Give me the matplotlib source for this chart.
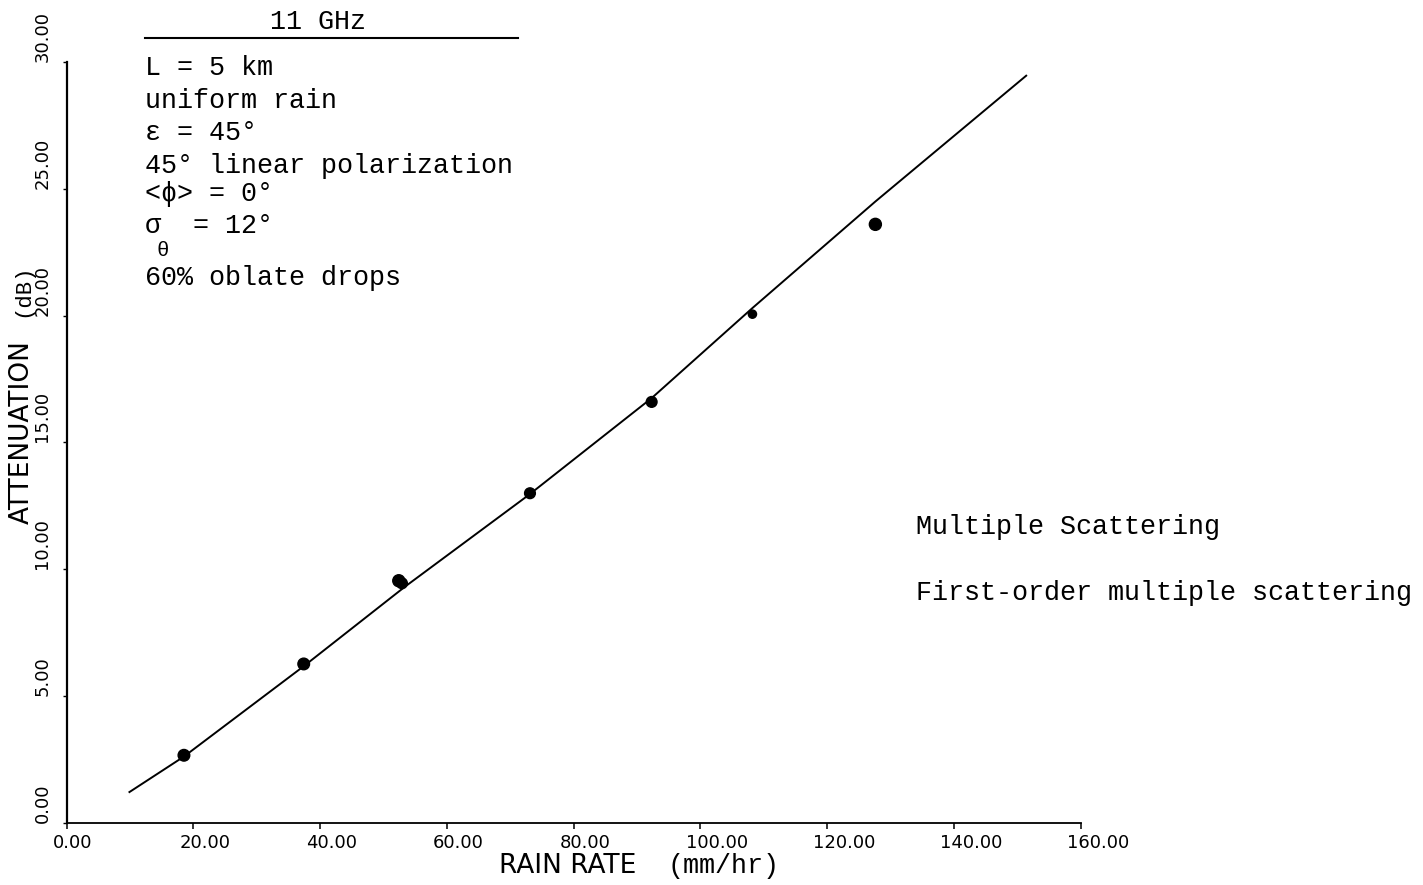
import matplotlib
matplotlib.use("Agg")
import matplotlib.pyplot as plt
import matplotlib.transforms as mtransforms
from matplotlib.lines import Line2D

# Computed points (multiple scattering) at 11 GHz
rain_rate = [18.5, 37.4, 52.4, 52.9, 73.1, 92.3, 108.2, 127.6]
attenuation = [2.67, 6.27, 9.55, 9.45, 13.0, 16.6, 20.06, 23.6]
dot_sizes = [70, 70, 75, 60, 60, 60, 35, 75]

# First-order curve
curve_rate = [9.9, 18.5, 37.5, 53.4, 73.0, 92.3, 108.2, 127.6, 151.4]
curve_att = [1.22, 2.62, 6.2, 9.32, 12.95, 16.75, 20.3, 24.5, 29.46]

x_ticks = [0, 20, 40, 60, 80, 100, 120, 140, 160]
y_ticks = [0, 5, 10, 15, 20, 25, 30]

info_lines = ["L = 5 km", "uniform rain", "ε = 45°", "45° linear polarization",
              "<ϕ> = 0°", "σ  = 12°", "60% oblate drops"]
info_y = [68, 101, 133, 166, 194, 226, 278]

W, H = 1423, 885
mono = ["Liberation Mono", "DejaVu Sans Mono"]
plotter = ["DejaVu Sans"]

fig = plt.figure(figsize=(W / 100, H / 100), dpi=100)
ax = fig.add_axes([66.7 / W, 1 - 823 / H, (1080.7 - 66.7) / W, (823 - 62) / H])

ax.plot(curve_rate, curve_att, color="black", lw=1.4)
ax.scatter(rain_rate, attenuation, s=dot_sizes, color="black", zorder=3)

ax.set_xlim(0, 160)
ax.set_ylim(0, 30)
for side in ["top", "right"]:
    ax.spines[side].set_visible(False)
ax.spines["left"].set_linewidth(1.6)
ax.spines["bottom"].set_linewidth(1.3)

ax.set_xticks(x_ticks)
ax.set_xticklabels([f"{v:.2f}" for v in x_ticks], family=plotter, fontsize=13)
ax.set_yticks(y_ticks)
ax.set_yticklabels([f"{v:.2f}" for v in y_ticks], family=plotter, fontsize=13,
                   rotation=90, va="bottom")
ax.tick_params(axis="x", direction="out", length=4, width=1.1, pad=4)
ax.tick_params(axis="y", direction="out", length=3, width=1.0, pad=8)

# x labels start slightly left of their tick
shift = mtransforms.ScaledTranslation(-14 / 100, 0, fig.dpi_scale_trans)
for lab in ax.get_xticklabels():
    lab.set_horizontalalignment("left")
    lab.set_transform(lab.get_transform() + shift)


def put(x, y, s, **kw):
    fig.text(x / W, 1 - y / H, s, **kw)


# axis titles
put(568, 866, "RAIN RATE", family=plotter, fontsize=19, ha="center", va="center")
put(668, 866, "(mm/hr)", family=mono, fontsize=19.3, ha="left", va="center")
put(22, 432, "ATTENUATION", family=plotter, fontsize=19, rotation=90,
    ha="center", va="center")
put(23, 290, "(dB)", family=mono, fontsize=16, rotation=90, ha="center", va="center")

# parameter block
put(318, 22, "11 GHz", family=mono, fontsize=19.3, ha="center", va="center")
fig.add_artist(Line2D([145 / W, 518 / W], [1 - 38 / H, 1 - 38 / H],
                      transform=fig.transFigure, color="black", lw=1.5))
for txt, yy in zip(info_lines, info_y):
    put(145, yy, txt, family=mono, fontsize=19.3, ha="left", va="center")
put(157, 250, "θ", family=mono, fontsize=15, ha="left", va="center")

put(916, 527, "Multiple Scattering", family=mono, fontsize=19.3, ha="left", va="center")
put(916, 593, "First-order multiple scattering", family=mono, fontsize=19.3,
    ha="left", va="center")

fig.savefig("out.png", dpi=100, facecolor="white")
